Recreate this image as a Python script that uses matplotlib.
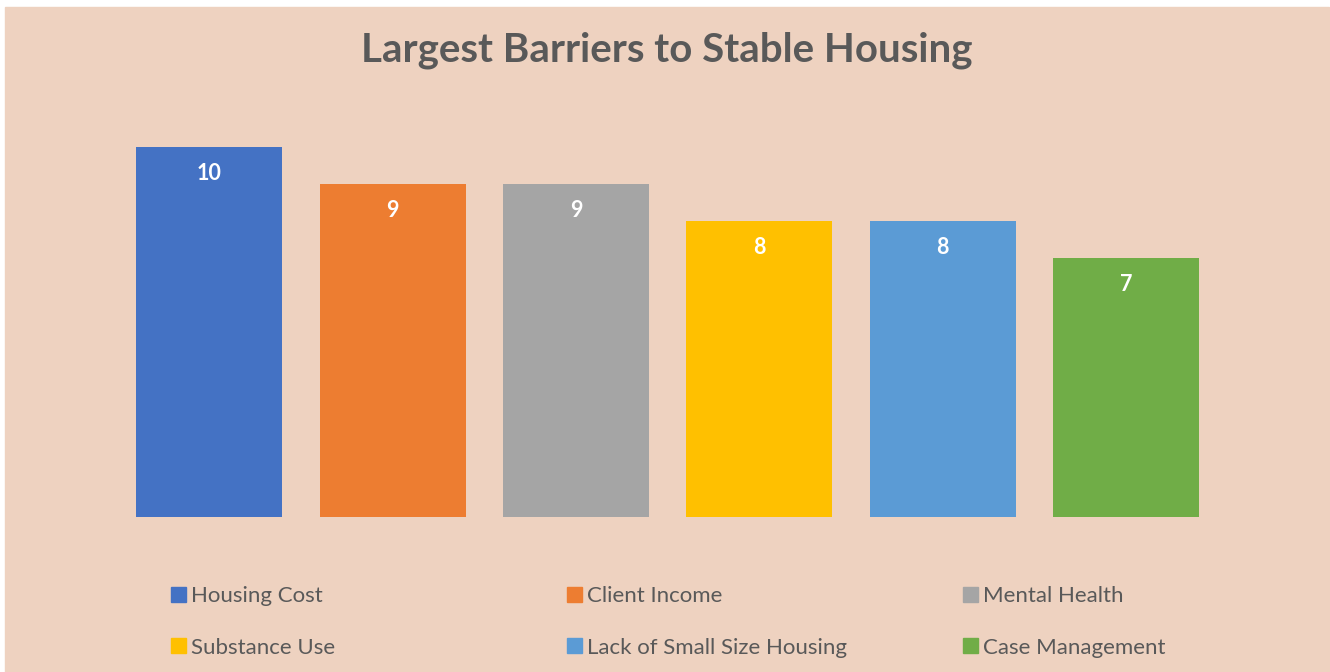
import matplotlib.pyplot as plt
import matplotlib.patches as mpatches

categories = ['Housing Cost', 'Client Income', 'Mental Health',
              'Substance Use', 'Lack of Small Size Housing', 'Case Management']
values = [10, 9, 9, 8, 8, 7]
colors = ['#4472C4', '#ED7D31', '#A5A5A5', '#FFC000', '#5B9BD5', '#70AD47']

plt.rcParams['font.family'] = ['Lato', 'DejaVu Sans']
bg = '#EED2C0'
txt = '#595959'

fig = plt.figure(figsize=(13.3, 6.72), dpi=100, facecolor='white')
# peach chart area with thin white border on top/left/right
fig.patches.append(mpatches.Rectangle((5 / 1330, 0), 1324 / 1330, 665 / 672,
                                      transform=fig.transFigure, color=bg, zorder=-10))

ax = fig.add_axes([0.0885, 0.2307, 0.827, 0.5506])
ax.set_zorder(2)
ax.patch.set_alpha(0)
x = list(range(len(categories)))
bars = ax.bar(x, values, width=0.795, color=colors)
ax.set_xlim(-0.5, 5.5)
ax.set_ylim(0, 10)
ax.axis('off')

for xi, v in zip(x, values):
    ax.text(xi, v - 0.72, str(v), ha='center', va='center', color='white',
            fontsize=15.5, fontweight='bold')

fig.text(0.5015, 0.925, 'Largest Barriers to Stable Housing', ha='center', va='center',
         fontsize=29, fontweight='bold', color=txt)

# legend: three columns of two rows each
col_x = [160 / 1330, 556 / 1330, 952 / 1330]
for c in range(3):
    idx = [c, c + 3]
    handles = [mpatches.Patch(color=colors[i]) for i in idx]
    leg = fig.legend(handles, [categories[i] for i in idx], loc='upper left',
                     bbox_to_anchor=(col_x[c], 97 / 672), frameon=False,
                     fontsize=16, labelcolor=txt, handlelength=0.65, handleheight=0.65,
                     handletextpad=0.25, labelspacing=1.42, borderpad=0)
    leg.set_zorder(3)

fig.savefig('out.png', dpi=100, facecolor='white')
